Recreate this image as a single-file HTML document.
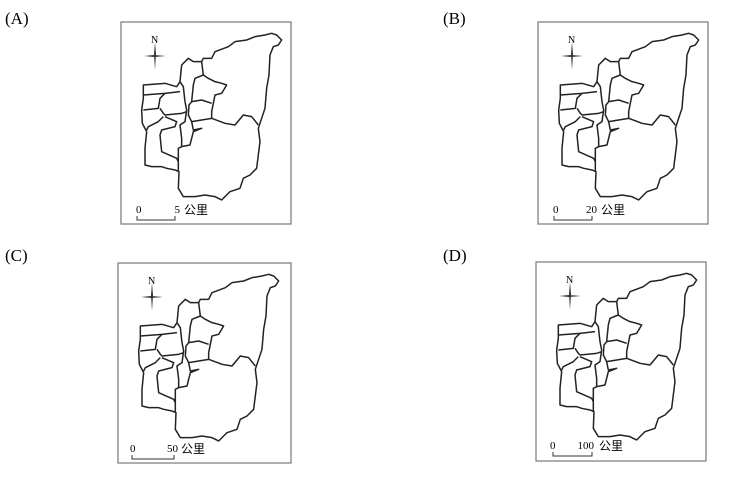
<!DOCTYPE html>
<html><head><meta charset="utf-8"><style>
body{margin:0;background:#fff;width:742px;height:482px;overflow:hidden;font-family:"Liberation Serif","Noto Serif CJK SC",serif}
svg{position:absolute;left:0;top:0}
</style></head><body>
<svg width="742" height="482">
<defs>
<g id="mapshape" fill="none" stroke="#222" stroke-width="4.5" stroke-linejoin="round">
<path d="M85,210 L150,205 L185,215 L195,200 L200,150 L220,130 L235,140 L260,140 L265,130 L290,130 L300,110 L340,95 L360,80 L395,75 L420,65 L450,60 L470,55 L485,60 L500,75 L490,90 L475,95 L465,120 L462,180 L455,220 L450,280 L440,310 L430,340 L435,380 L430,420 L425,460 L405,480 L385,490 L375,520 L345,530 L330,545 L320,555 L300,545 L270,540 L240,545 L205,545 L190,520 L192,470 L180,465 L155,460 L140,455 L110,455 L90,450 L90,400 L95,350 L82,325 L80,285 L85,250 Z"/>
<path d="M290,310 L330,325 L360,330 L385,300 L410,305 L430,330"/>
<path d="M290,310 L290,290 L295,265 L300,240 L320,235 L335,210 L320,205 L300,200 L280,190 L265,180 L260,140"/>
<path d="M265,180 L240,190 L235,210 L230,260 L222,270 L220,300 L230,320 L260,315 L290,310"/>
<path d="M230,260 L260,255 L290,265"/>
<path d="M230,320 L235,345 L260,340 L235,350 L230,370 L225,390 L200,395 L190,400 L190,430 L190,470"/>
<path d="M195,200 L205,215 L210,260 L215,285 L210,320 L195,330 L200,370 L200,395"/>
<path d="M85,240 L150,235 L195,230"/>
<path d="M150,235 L135,250 L130,280 L85,285"/>
<path d="M135,280 L145,295 L150,300 L200,295 L215,290"/>
<path d="M145,305 L130,320 L100,335 L95,345"/>
<path d="M150,305 L185,320 L180,335 L140,345 L135,360 L140,410 L185,430 L190,440"/>
</g>
<g id="compass" fill="#333" stroke="none">
<path d="M0,-14 L1,-2 L0,14 L-1,-2 Z"/>
<path d="M-11,0 L-1,-1 L11,0 L-1,1 Z"/>
</g>
</defs>

<text x="5" y="24" font-size="17">(A)</text>
<text x="443" y="24" font-size="17">(B)</text>
<text x="5" y="261" font-size="17">(C)</text>
<text x="443" y="261" font-size="17">(D)</text>

<g transform="translate(121,22)">
<rect x="0" y="0" width="170" height="202" fill="none" stroke="#777" stroke-width="1.2"/>
<use href="#mapshape" transform="translate(-6,-7) scale(0.3333)"/>
<text x="30" y="21" font-size="10">N</text>
<use href="#compass" transform="translate(34,34)"/>
<text x="15" y="191" font-size="11">0</text>
<path d="M16,194 V198 H54 V194" fill="none" stroke="#333" stroke-width="1"/>
<text x="59" y="191" font-size="11" text-anchor="end">5</text>
<text x="63" y="192" font-size="12" font-family="Noto Sans CJK SC, sans-serif">公里</text>
</g>

<g transform="translate(538,22)">
<rect x="0" y="0" width="170" height="202" fill="none" stroke="#777" stroke-width="1.2"/>
<use href="#mapshape" transform="translate(-6,-7) scale(0.3333)"/>
<text x="30" y="21" font-size="10">N</text>
<use href="#compass" transform="translate(34,34)"/>
<text x="15" y="191" font-size="11">0</text>
<path d="M16,194 V198 H54 V194" fill="none" stroke="#333" stroke-width="1"/>
<text x="59" y="191" font-size="11" text-anchor="end">20</text>
<text x="63" y="192" font-size="12" font-family="Noto Sans CJK SC, sans-serif">公里</text>
</g>

<g transform="translate(118,263)">
<rect x="0" y="0" width="173" height="200" fill="none" stroke="#777" stroke-width="1.2"/>
<use href="#mapshape" transform="translate(-6,-7) scale(0.3333)"/>
<text x="30" y="21" font-size="10">N</text>
<use href="#compass" transform="translate(34,34)"/>
<text x="12" y="189" font-size="11">0</text>
<path d="M14,192 V196 H56 V192" fill="none" stroke="#333" stroke-width="1"/>
<text x="60" y="189" font-size="11" text-anchor="end">50</text>
<text x="63" y="190" font-size="12" font-family="Noto Sans CJK SC, sans-serif">公里</text>
</g>

<g transform="translate(536,262)">
<rect x="0" y="0" width="170" height="199" fill="none" stroke="#777" stroke-width="1.2"/>
<use href="#mapshape" transform="translate(-6,-7) scale(0.3333)"/>
<text x="30" y="21" font-size="10">N</text>
<use href="#compass" transform="translate(34,34)"/>
<text x="14" y="187" font-size="11">0</text>
<path d="M17,190 V194 H56 V190" fill="none" stroke="#333" stroke-width="1"/>
<text x="58" y="187" font-size="11" text-anchor="end">100</text>
<text x="63" y="188" font-size="12" font-family="Noto Sans CJK SC, sans-serif">公里</text>
</g>
</svg>
</body></html>
